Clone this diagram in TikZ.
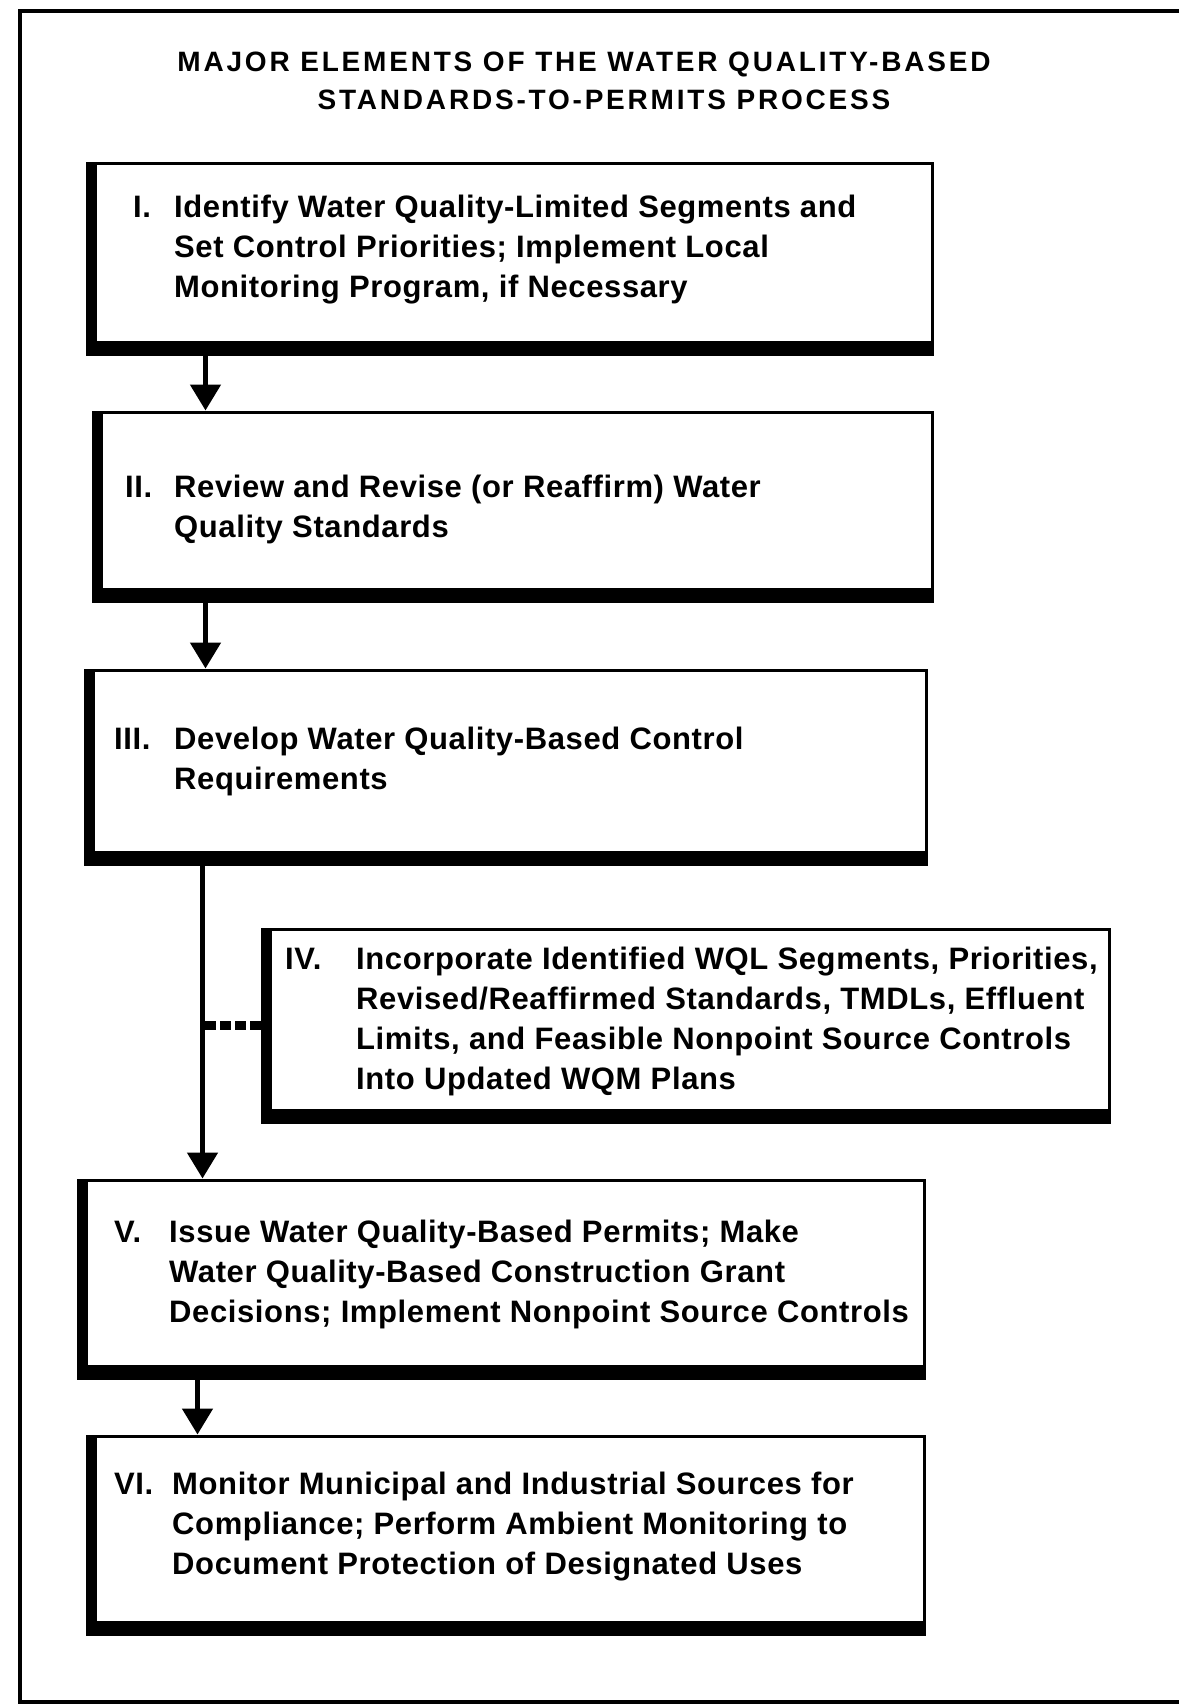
\documentclass[tikz,border=0pt]{standalone}
\usepackage{fontspec}
\setmainfont{Liberation Sans}
\newfontfamily\bodyfont[LetterSpace=2]{Liberation Sans}
\newfontfamily\titlefont[LetterSpace=10]{Liberation Sans}
\usetikzlibrary{arrows.meta}
\begin{document}
\begin{tikzpicture}[x=1pt,y=-1pt,
  box/.style={draw, line width=3pt, inner sep=0pt, rectangle},
  txt/.style={anchor=west, align=left, inner sep=0pt,
    font=\bodyfont\bfseries\fontsize{31}{40}\selectfont},
  ttl/.style={align=center, inner sep=0pt,
    font=\titlefont\bfseries\fontsize{28}{38}\selectfont},
  arr/.style={line width=5pt, -{Triangle[width=30pt,length=26pt]}},
  frame/.style={line width=4pt}]
\fill[white] (0,0) rectangle (1179,1708);
\useasboundingbox (0,0) rectangle (1179,1708);
% outer frame
\draw[frame] (1179,11) -- (20,11) -- (20,1702) -- (1179,1702);
% title
\node[ttl] (title) at (584,81) {MAJOR ELEMENTS OF THE WATER QUALITY-BASED\\\hspace*{40pt}STANDARDS-TO-PERMITS PROCESS};
% boxes
\node[box, minimum width=845pt, minimum height=191pt] (b1) at (509.5,258.5) {};
\node[box, minimum width=839pt, minimum height=189pt] (b2) at (512.5,506.5) {};
\node[box, minimum width=841pt, minimum height=194pt] (b3) at (505.5,767) {};
\node[box, minimum width=847pt, minimum height=193pt] (b4) at (685.5,1025.5) {};
\node[box, minimum width=846pt, minimum height=198pt] (b5) at (501,1279) {};
\node[box, minimum width=837pt, minimum height=198pt] (b6) at (505.5,1535) {};
\foreach \n in {b1,b2,b3,b4,b5,b6}{
  \fill (\n.north west) rectangle ([xshift=11pt]\n.south west);
  \fill ([yshift=15pt]\n.south west) rectangle (\n.south east);
}
% texts
\node[txt] (t1) at (133,250) {\makebox[41pt][l]{I.}Identify Water Quality-Limited Segments and\\\hspace*{41pt}Set Control Priorities; Implement Local\\\hspace*{41pt}Monitoring Program, if Necessary};
\node[txt] (t2) at (125,509) {\makebox[49pt][l]{II.}Review and Revise (or Reaffirm) Water\\\hspace*{49pt}Quality Standards};
\node[txt] (t3) at (114,761) {\makebox[60pt][l]{III.}Develop Water Quality-Based Control\\\hspace*{60pt}Requirements};
\node[txt] (t4) at (285,1021) {\makebox[71pt][l]{IV.}Incorporate Identified WQL Segments, Priorities,\\\hspace*{71pt}Revised/Reaffirmed Standards, TMDLs, Effluent\\\hspace*{71pt}Limits, and Feasible Nonpoint Source Controls\\\hspace*{71pt}Into Updated WQM Plans};
\node[txt] (t5) at (114,1274) {\makebox[55pt][l]{V.}Issue Water Quality-Based Permits; Make\\\hspace*{55pt}Water Quality-Based Construction Grant\\\hspace*{55pt}Decisions; Implement Nonpoint Source Controls};
\node[txt] (t6) at (114,1527) {\makebox[58pt][l]{VI.}Monitor Municipal and Industrial Sources for\\\hspace*{58pt}Compliance; Perform Ambient Monitoring to\\\hspace*{58pt}Document Protection of Designated Uses};
% connectors
\draw[arr] ([xshift=120pt]b1.south west) coordinate (a1) -- (a1 |- b2.north);
\draw[arr] ([xshift=114pt]b2.south west) coordinate (a2) -- (a2 |- b3.north);
\draw[arr] ([xshift=119pt]b3.south west) coordinate (a3) -- (a3 |- b5.north);
\draw[arr] ([xshift=121pt]b5.south west) coordinate (a5) -- (a5 |- b6.north);
\draw[line width=9pt, dash pattern=on 11pt off 4pt] (b4.west) -- (b4.west -| a3);
\end{tikzpicture}
\end{document}
